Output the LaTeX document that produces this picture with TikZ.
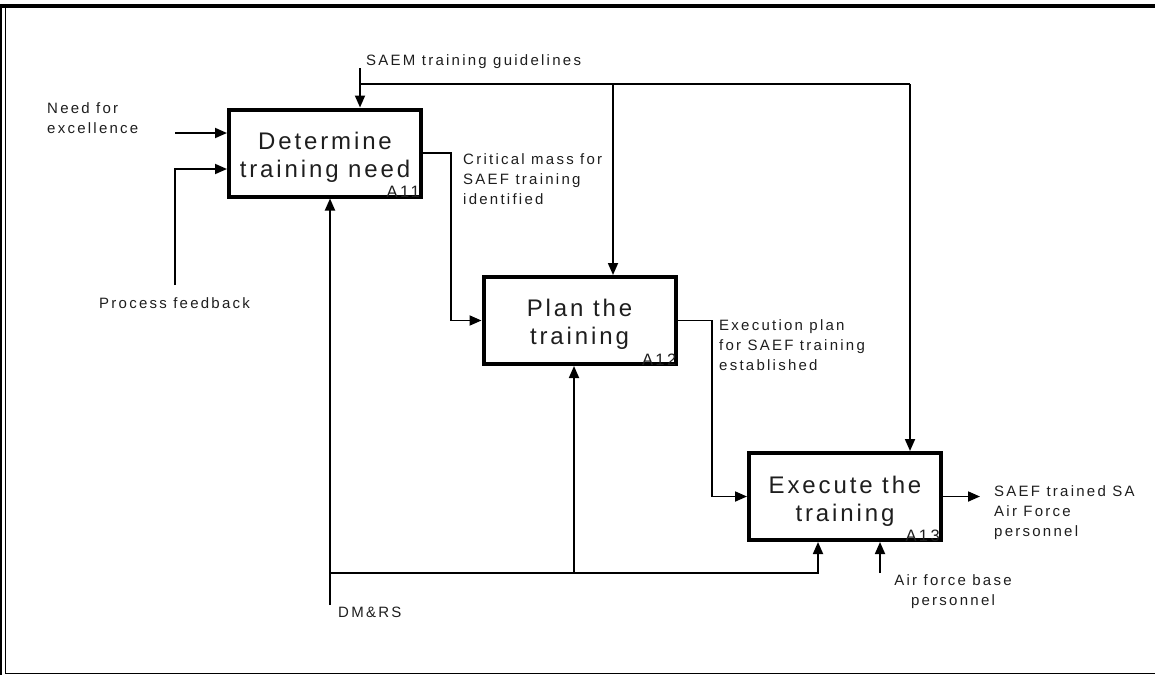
\documentclass[tikz,border=0pt]{standalone}
\usepackage{fontspec}
\setmainfont{Liberation Sans}
\newfontfamily\labelfont{Liberation Sans}[LetterSpace=15]
\newfontfamily\actfont{Liberation Sans}[LetterSpace=12]
\usetikzlibrary{arrows.meta}
\definecolor{ink}{RGB}{30,30,30}
\newcommand\lblstrut{\rule{0pt}{11pt}}
\newcommand\actstrut{\rule{0pt}{18pt}}
\tikzset{
  actbox/.style={draw=black, line width=4pt, minimum width=192pt, minimum height=87pt, inner sep=0pt},
  acttext/.style={anchor=north, align=center, inner sep=0pt, text=ink,
    font=\actfont\fontsize{24}{28}\selectfont},
  actnum/.style={anchor=base east, inner sep=0pt, text=ink,
    font=\labelfont\fontsize{16.5}{20}\selectfont},
  flowlabel/.style={anchor=north west, align=left, inner sep=0pt, text=ink,
    font=\labelfont\fontsize{15}{20}\selectfont},
  arr/.style={line width=1.8pt, -{Triangle[length=12pt,width=10pt]}},
  wire/.style={line width=1.8pt}
}
\begin{document}
\begin{tikzpicture}[x=1pt,y=-1pt]
\useasboundingbox (0,0) rectangle (1155,675);
% page frame
\draw[line width=4pt] (0,6) -- (1155,6);
\draw[line width=1.3pt] (1,4) -- (1,675);
\draw[line width=1.3pt] (5.8,8) -- (5.8,673.3);
\draw[line width=1.3pt] (5.2,673.3) -- (1155,673.3);

% activity boxes
\node[actbox] (b1) at (325,153) {};
\node[actbox] (b2) at (579.5,320.5) {};
\node[actbox] (b3) at (845,496.5) {};

\node[acttext] (t1) at (325,131) {\actstrut Determine\\training need};
\node[acttext] (t2) at (579.5,298) {\actstrut Plan the\\training};
\node[acttext] (t3) at (845,475) {\actstrut Execute the\\training};

\node[actnum] (n1) at ([xshift=-3pt,yshift=1pt]b1.south east) {A11};
\node[actnum] (n2) at ([xshift=-1pt,yshift=1pt]b2.south east) {A12};
\node[actnum] (n3) at ([xshift=-3pt,yshift=1pt]b3.south east) {A13};

% attachment points on the boxes
\coordinate (b1top) at ([xshift=35pt]b1.north);
\coordinate (b2top) at ([xshift=33.5pt]b2.north);
\coordinate (b3top) at ([xshift=65pt]b3.north);
\coordinate (b1bot) at ([xshift=5pt]b1.south);
\coordinate (b2bot) at ([xshift=-5.5pt]b2.south);
\coordinate (b3botA) at ([xshift=-27pt]b3.south);
\coordinate (b3botB) at ([xshift=35pt]b3.south);

% free ends and bends
\coordinate (needin) at (175,133);
\coordinate (fbin) at (175,285);
\coordinate (fbturn) at (175,169);
\coordinate (saemin) at (360,68);
\coordinate (saemrow) at (360,84);
\coordinate (k1) at (451,0);
\coordinate (k2) at (712,0);
\coordinate (dmin) at (330,605);
\coordinate (dmrow) at (330,573);
\coordinate (afbin) at (880,573);
\coordinate (outend) at (980,0);

% inputs
\draw[arr] (needin) -- (needin -| b1.west);
\draw[arr] (fbin) -- (fbturn) -- (fbturn -| b1.west);

% controls
\draw[arr] (saemin) -- (b1top);
\draw[wire] (saemrow) -- (saemrow -| b3top);
\draw[arr] (saemrow -| b2top) -- (b2top);
\draw[arr] (saemrow -| b3top) -- (b3top);

% outputs between activities
\draw[arr] (b1.east) -| (k1 |- b2.west) -- (b2.west);
\draw[arr] (b2.east) -| (k2 |- b3.west) -- (b3.west);
\draw[arr] (b3.east) -- (outend |- b3.east);

% mechanisms
\draw[arr] (dmin) -- (b1bot);
\draw[arr] (dmrow) -| (b3botA);
\draw[arr] (dmrow -| b2bot) -- (b2bot);
\draw[arr] (afbin) -- (b3botB);

% arrow labels
\node[flowlabel] (lneed) at (47,102) {\lblstrut Need for\\excellence};
\node[flowlabel] (lproc) at (99,297) {\lblstrut Process feedback};
\node[flowlabel] (lsaem) at (366,54) {\lblstrut SAEM training guidelines};
\node[flowlabel] (lcrit) at (463,153) {\lblstrut Critical mass for\\SAEF training\\identified};
\node[flowlabel] (lexec) at (719,319) {\lblstrut Execution plan\\for SAEF training\\established};
\node[flowlabel] (lout) at (994,485) {\lblstrut SAEF trained SA\\Air Force\\personnel};
\node[flowlabel, anchor=north, align=center] (lafb) at (953,574) {\lblstrut Air force base\\personnel};
\node[flowlabel] (ldm) at (338,606) {\lblstrut DM\&RS};
\end{tikzpicture}
\end{document}
